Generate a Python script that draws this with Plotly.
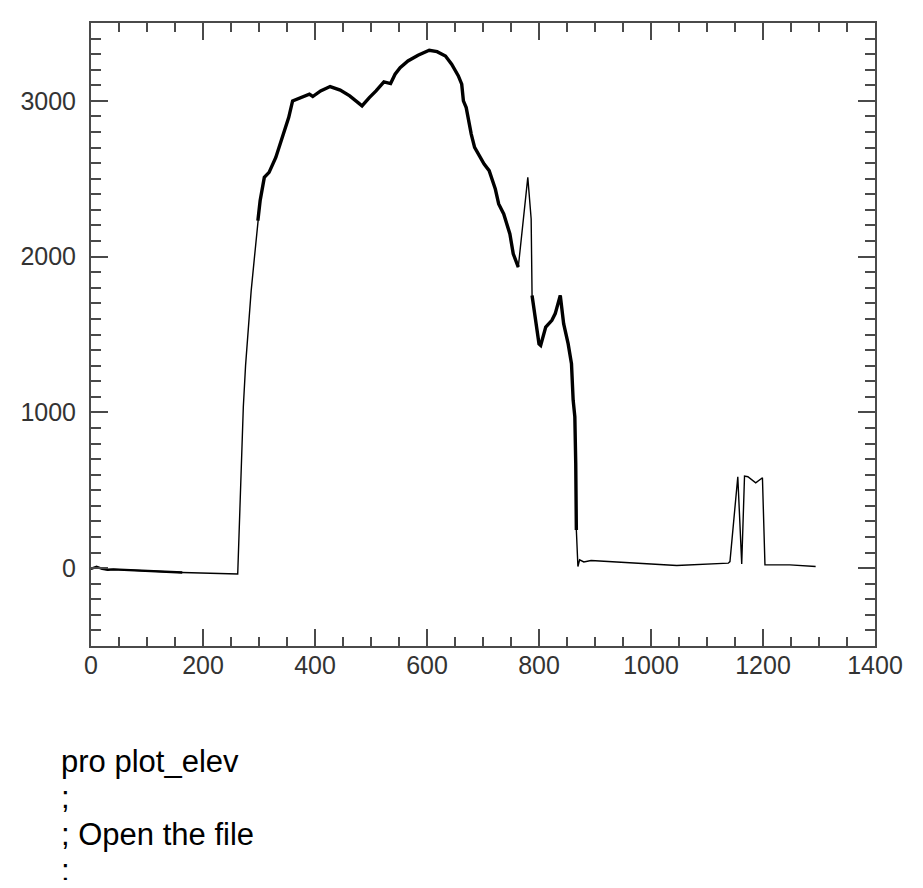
import plotly.graph_objects as go
import numpy as np

# Distance along the profile (x) and elevation (y)
distance = [0, 10, 20, 30, 40, 60, 80, 100, 120, 140, 163, 262, 264.5, 268, 272, 276, 280.6,
            286, 292, 298, 302, 309.5, 318, 330, 344, 353, 360, 376, 390, 396, 410, 427, 445,
            462, 484, 497, 509, 523, 535, 543, 552, 566, 584, 604, 618, 633, 644, 656, 662,
            665, 670, 679, 685, 702, 711, 722, 728, 737, 743, 748, 754, 763, 780, 786, 787.6,
            794.5, 800, 803, 812, 823, 829, 838, 844, 852, 858, 861, 864, 865.6, 866.7, 869.5,
            872.5, 880, 893, 1046, 1138, 1141, 1155, 1162, 1167, 1173, 1187, 1199, 1203.5,
            1225, 1248, 1294]
elevation = [-5, 8, -5, -10, -8, -12, -15, -18, -20, -24, -28, -38, 246, 672, 1035, 1300, 1527,
             1780, 2000, 2231, 2359, 2509, 2541, 2637, 2787, 2893, 3000, 3021, 3043, 3028, 3064,
             3092, 3069, 3032, 2968, 3021, 3064, 3122, 3111, 3171, 3213, 3256, 3293, 3325, 3316,
             3288, 3235, 3160, 3107, 3000, 2957, 2787, 2701, 2594, 2552, 2434, 2338, 2274, 2210,
             2146, 2018, 1932, 2509, 2242, 1751, 1591, 1440, 1430, 1548, 1591, 1634, 1751, 1570,
             1441, 1313, 1078, 971, 673, 245, 10, 53, 40, 49, 17, 32, 42, 587, 26, 591, 587,
             548, 580, 21, 21, 21, 10]

# Stretches where the measured points are dense (drawn heavier in the original)
dense_ranges = [(0, 163, 2.4), (298, 763, 3.4), (787.6, 866.7, 3.4)]

x_ticks = [0, 200, 400, 600, 800, 1000, 1200, 1400]
y_ticks = [0, 1000, 2000, 3000]

code_lines = ["pro plot_elev", ";", "; Open the file", ";"]

# page body has an 8px margin on every side: figure coords = screen coords - 8,
# and the figure is shrunk so the page does not overflow the 923x888 window
OFF = 8
W, H = 923 - 2 * OFF, 888 - 2 * OFF
L, R, T, B = 76.5 - OFF, 884.3 - OFF, 23 - OFF, 646 - OFF

x = np.array(distance)
y = np.array(elevation)

fig = go.Figure()
fig.add_trace(go.Scatter(x=x, y=y, mode="lines",
                         line=dict(color="black", width=1.4), showlegend=False,
                         hoverinfo="skip"))
for lo, hi, w in dense_ranges:
    m = (x >= lo) & (x <= hi)
    fig.add_trace(go.Scatter(x=x[m], y=y[m], mode="lines",
                             line=dict(color="black", width=w), showlegend=False,
                             hoverinfo="skip"))

axis_col = "#4a4a4a"
tickfont = dict(family="Liberation Sans, Arial, sans-serif", size=25, color="#333333")

fig.update_xaxes(range=[0, 1400], tickvals=x_ticks, ticktext=[str(v) for v in x_ticks],
                 showgrid=False, zeroline=False, showline=True, linecolor=axis_col,
                 linewidth=2, mirror="allticks", ticks="inside", ticklen=17,
                 tickwidth=1.6, tickcolor=axis_col, tickfont=tickfont,
                 ticklabelstandoff=-4,
                 minor=dict(dtick=50, ticks="inside", ticklen=9, tickwidth=1.6,
                            tickcolor=axis_col, showgrid=False))
fig.update_yaxes(range=[-500, 3500], tickvals=y_ticks, ticktext=[str(v) for v in y_ticks],
                 showgrid=False, zeroline=False, showline=True, linecolor=axis_col,
                 linewidth=2, mirror="allticks", ticks="inside", ticklen=17,
                 tickwidth=1.6, tickcolor=axis_col, tickfont=tickfont,
                 ticklabelstandoff=8,
                 minor=dict(dtick=100, ticks="inside", ticklen=10, tickwidth=1.6,
                            tickcolor=axis_col, showgrid=False))

pw = R - L
ph = B - T
line_centers = [761, 797.5, 834, 870.5]  # screen px
for txt, cy in zip(code_lines, line_centers):
    fig.add_annotation(text=txt, xref="paper", yref="paper",
                       x=(44 - OFF - L) / pw, y=(B - (cy - OFF)) / ph,
                       xanchor="left", yanchor="middle", align="left", showarrow=False,
                       font=dict(family="Liberation Sans, Arial, sans-serif", size=31,
                                 color="black"))

fig.update_layout(width=W, height=H, paper_bgcolor="white", plot_bgcolor="white",
                  margin=dict(l=L, r=W - R, t=T, b=H - B), showlegend=False)

fig.write_html("out.html")
